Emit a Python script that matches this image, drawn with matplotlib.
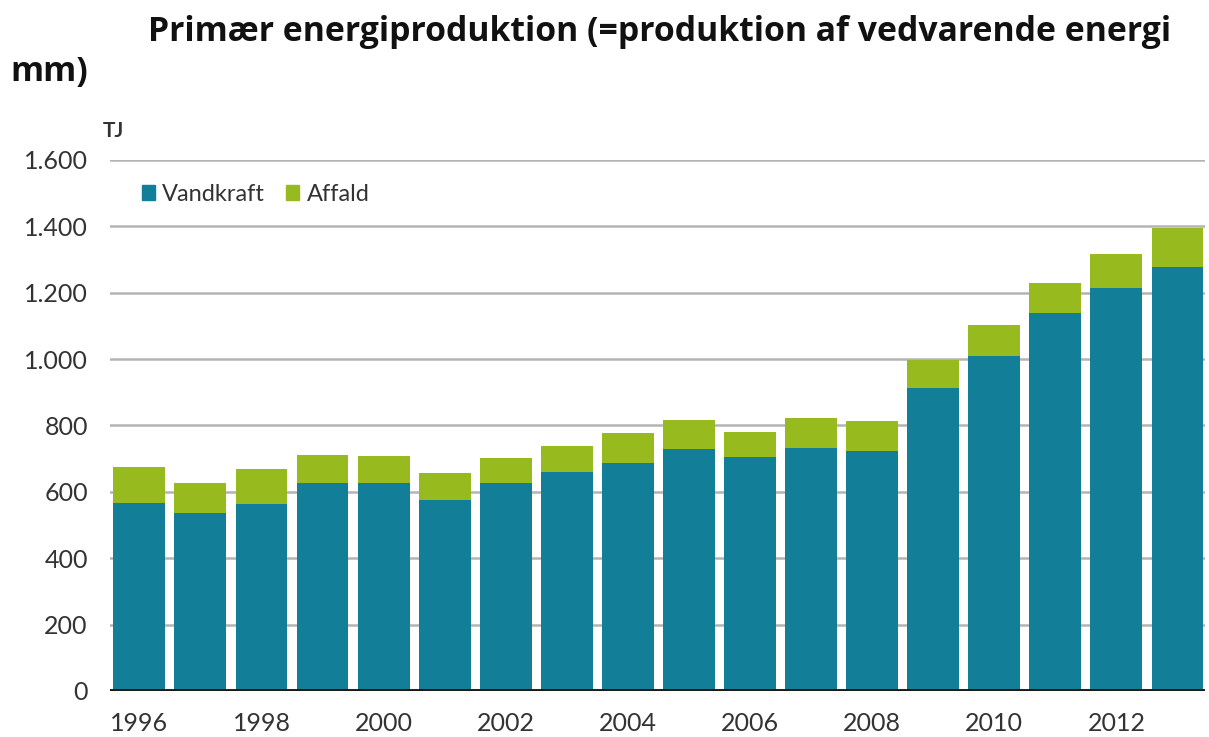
import numpy as np
import matplotlib.pyplot as plt
from matplotlib.patches import Patch

# data (TJ)
years = list(range(1996, 2014))
vandkraft = [566, 536, 563, 627, 627, 575, 627, 660, 687, 729,
             705, 732, 723, 913, 1009, 1139, 1214, 1277]
total = [675, 626, 669, 711, 708, 657, 702, 738, 777, 816,
         780, 822, 813, 997, 1102, 1229, 1316, 1395]
affald = [t - v for t, v in zip(total, vandkraft)]
yticks = [0, 200, 400, 600, 800, 1000, 1200, 1400, 1600]

tickfont = 'Lato'
blue = '#137e98'
green = '#97bb1f'

fig = plt.figure(figsize=(12.09, 7.37), dpi=100)
ax = fig.add_axes([110/1209, 1-691/737, 1095/1209, (691-160)/737])

x = np.arange(len(years))
ax.bar(x, vandkraft, width=0.85, color=blue, zorder=3)
ax.bar(x, affald, width=0.85, bottom=vandkraft, color=green, zorder=3)

for yv in yticks[1:]:
    ax.axhline(yv, color='#b4b4b4', lw=1.8, zorder=1)
ax.axhline(0, color='#1a1a1a', lw=2.8, zorder=4)

ax.set_xlim(-0.48, 17.45)
ax.set_ylim(0, 1600)
ax.set_yticks(yticks)
ax.set_yticklabels([f'{v:,}'.replace(',', '.') for v in yticks],
                   fontsize=18, family=tickfont, color='#333333')
ax.set_xticks(x[::2])
ax.set_xticklabels([str(y) for y in years[::2]], fontsize=18,
                   family=tickfont, color='#333333')
ax.tick_params(length=0)
ax.tick_params(axis='x', pad=15)
ax.tick_params(axis='y', pad=16)
for s in ax.spines.values():
    s.set_visible(False)

fig.text(103/1209, 1-131/737, 'TJ', fontsize=15, family=tickfont,
         fontweight='bold', color='#333333', va='center')

handles = [Patch(color=blue, label='Vandkraft'), Patch(color=green, label='Affald')]
leg = ax.legend(handles=handles, loc='upper left', bbox_to_anchor=(0.01, 0.995),
                ncol=2, frameon=False, handlelength=0.55, handleheight=0.55,
                handletextpad=0.3, columnspacing=0.9,
                prop={'family': tickfont, 'size': 17})
for t in leg.get_texts():
    t.set_color('#333333')

fig.text(148/1209, 1-32/737,
         'Primær energiproduktion (=produktion af vedvarende energi',
         fontsize=24.3, fontweight='bold', family='Open Sans', va='center',
         color='#111111')
fig.text(10/1209, 1-72/737, 'mm)', fontsize=24.3, fontweight='bold',
         family='Open Sans', va='center', color='#111111')

fig.savefig('out.png', dpi=100)
